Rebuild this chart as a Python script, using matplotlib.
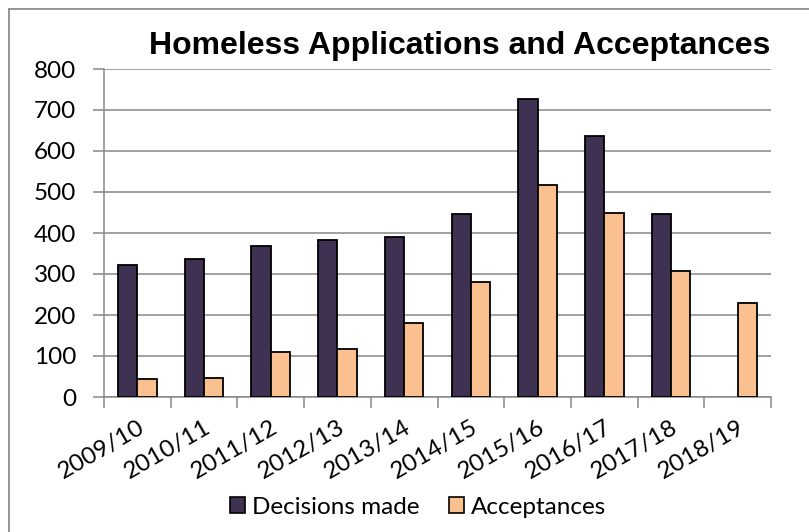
import numpy as np
import matplotlib
matplotlib.use("Agg")
import matplotlib.pyplot as plt
from matplotlib.patches import Patch
from matplotlib.lines import Line2D

categories = ["2009/10", "2010/11", "2011/12", "2012/13", "2013/14",
              "2014/15", "2015/16", "2016/17", "2017/18", "2018/19"]
decisions = [322, 336, 368, 382, 390, 447, 727, 637, 447, np.nan]
acceptances = [45, 46, 109, 116, 181, 281, 516, 449, 307, 230]
series_names = ["Decisions made", "Acceptances"]
y_ticks = [0, 100, 200, 300, 400, 500, 600, 700, 800]

W, H = 809, 532
fig = plt.figure(figsize=(W / 100, H / 100), dpi=100)
ax = fig.add_axes([104 / W, 1 - 397 / H, (771 - 104) / W, (397 - 69) / H])

c_dec = "#3F3151"
c_acc = "#FAC090"
grid_c = "#878787"
x = np.arange(len(categories))
bw = 19.3 / 66.7
ax.bar(x - bw / 2, decisions, bw, color=c_dec, edgecolor="black", linewidth=1.3, zorder=3)
ax.bar(x + bw / 2, acceptances, bw, color=c_acc, edgecolor="black", linewidth=1.3, zorder=3)

ax.set_xlim(-0.5, len(categories) - 0.5)
ax.set_ylim(0, 800)
ax.set_yticks(y_ticks)
ax.yaxis.grid(True, color=grid_c, linewidth=1.1, zorder=0)
ax.set_axisbelow(True)
for s in ["top", "right"]:
    ax.spines[s].set_visible(False)
for s in ["left", "bottom"]:
    ax.spines[s].set_color(grid_c)
    ax.spines[s].set_linewidth(1.1)

ax.tick_params(axis="y", length=8, width=1.1, color=grid_c, labelsize=17.5, pad=12)
ax.set_xticks(np.arange(len(categories) + 1) - 0.5, minor=False)
ax.set_xticklabels([])
ax.tick_params(axis="x", which="major", length=8, width=1.1, color=grid_c)
ax.set_xticks(x, minor=True)
ax.set_xticklabels(categories, minor=True, rotation=30, ha="right",
                   rotation_mode="anchor", fontsize=17.5)
ax.tick_params(axis="x", which="minor", length=0, pad=14)
for lab in ax.get_yticklabels() + ax.get_xticklabels(minor=True):
    lab.set_family("Lato")

fig.text(460 / W, 1 - 46 / H, "Homeless Applications and Acceptances",
         ha="center", va="center", fontsize=23, fontweight="bold",
         family="Liberation Sans")

handles = [Patch(facecolor=c_dec, edgecolor="black", linewidth=1.2),
           Patch(facecolor=c_acc, edgecolor="black", linewidth=1.2)]
fig.legend(handles, series_names, loc="center", bbox_to_anchor=(418 / W, 1 - 507 / H),
           ncol=2, frameon=False, prop={"family": "Lato", "size": 17.5},
           handlelength=0.62, handleheight=0.62, handletextpad=0.3, columnspacing=1.2)

fig.add_artist(Line2D([8.5 / W, 8.5 / W], [0, 1 - 8.5 / H], transform=fig.transFigure,
                      color="#8C8C8C", linewidth=1.3))
fig.add_artist(Line2D([8.5 / W, 1], [1 - 8.5 / H, 1 - 8.5 / H], transform=fig.transFigure,
                      color="#8C8C8C", linewidth=1.3))

fig.savefig("out.png", dpi=100)
